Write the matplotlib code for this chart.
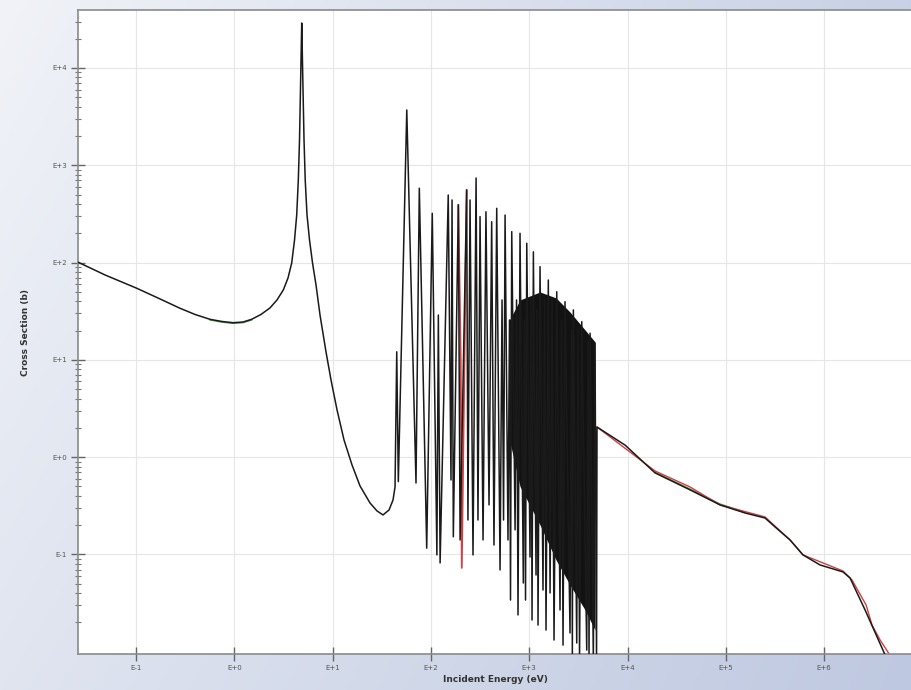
import numpy as np
import matplotlib
matplotlib.use("Agg")
from matplotlib import pyplot as plt
from matplotlib.ticker import LogLocator, NullFormatter

# Main evaluation (black): incident energy (eV) / cross section (b), read by segment
thermal_energy = [0.0257, 0.0484, 0.1016, 0.1754, 0.2805, 0.398, 0.566, 0.750, 0.970,
                  1.226, 1.50, 1.869, 2.307, 2.719, 3.151, 3.518, 3.837]
thermal_sigma = [101, 74.6, 54.5, 42.3, 33.9, 29.3, 26.1, 24.8, 24.1,
                 24.5, 26.1, 29.3, 34.2, 41.3, 52.3, 69.5, 99.1]

peak_energy = [4.098, 4.313, 4.478, 4.606, 4.715, 4.793, 4.850, 4.906, 5.000, 5.119,
               5.264, 5.491, 5.821, 6.246, 6.779, 7.444, 8.568, 9.632, 11.09, 13.06,
               15.76, 19.00, 24.02, 28.30, 32.57, 37.49, 41.17, 43.14]
peak_sigma = [170.8, 308.4, 706, 1820, 5940, 15310, 29010, 15310, 5940, 1820,
              706, 308.4, 170.8, 99.1, 58.9, 28.9, 12.06, 6.21, 3.06, 1.503,
              0.831, 0.506, 0.338, 0.280, 0.2547, 0.2866, 0.363, 0.494]

forest_energy = [44.9, 46.6, 56.8, 70.5, 76.2, 90.6, 103.2, 115, 119, 124, 150, 160,
                 164, 169, 190, 198, 231, 238, 250, 268, 288, 301, 316, 339, 363, 390,
                 415, 438, 467, 505, 529, 548, 568, 608, 630, 645, 664, 718, 743, 769,
                 806, 871, 896, 917, 944, 1019, 1043, 1068, 1102, 1173, 1200, 1229,
                 1288, 1381, 1431, 1482, 1564, 1629, 1706, 1788, 1905, 2057, 2131, 2207,
                 2312, 2600, 2694, 2745, 2812, 3043, 3136, 3249, 3421, 3846, 3965, 4059,
                 4159, 4489, 4670, 4840]
forest_sigma = [12.1, 0.560, 3700, 0.543, 581, 0.116, 321, 0.0989, 28.9, 0.0818, 495, 0.583,
                440, 0.152, 391, 0.141, 557, 0.226, 440, 0.0989, 740, 0.226, 297, 0.141, 333, 0.323,
                263, 0.125, 361, 0.0693, 41.3, 0.226, 308, 0.141, 25.7, 0.0340, 208, 0.179, 41.3, 0.0239,
                200, 0.0509, 25.7, 0.0340, 158, 0.0942, 41.3, 0.0212, 129, 0.0615, 32.6, 0.0188,
                90.8, 0.0431, 41.3, 0.0167, 66.2, 0.0402, 41.3, 0.0132, 50.2, 0.0269, 25.7, 0.0117,
                39.6, 0.0156, 20.3, 0.00927, 32.6, 0.0123, 20.3, 0.00824, 24.7, 0.0104, 16.0, 0.00824,
                18.8, 0.0082, 14.8, 0.0073]

tail_energy = [4893, 9441, 19050, 43250, 87300, 156700, 250400, 316300, 449800,
               609500, 907800, 1.556e6, 1.835e6, 2.608e6, 4.17e6]
tail_sigma = [2.04, 1.33, 0.689, 0.461, 0.323, 0.267, 0.237, 0.192, 0.141,
              0.0989, 0.0780, 0.0661, 0.0573, 0.0269, 0.00927]

# Unresolved part of the resonance forest (solid black band)
band_energy = [630, 806, 1288, 1875, 2600, 3698, 4670]
band_upper = [25.7, 41.3, 49.9, 43.3, 31.0, 20.3, 15.3]
band_lower = [1.50, 0.50, 0.201, 0.0878, 0.0486, 0.0269, 0.0167]

# Second evaluation (red), visible pieces
red_spike_energy = [190, 201, 206, 231]
red_spike_sigma = [391, 10.0, 0.0728, 557]
red_tail_energy = [4893, 19050, 43250, 87300, 250400, 449800, 609500,
                   1.556e6, 1.92e6, 2.67e6, 3.07e6, 3.71e6, 4.65e6]
red_tail_sigma = [2.04, 0.721, 0.494, 0.323, 0.243, 0.141, 0.0989,
                  0.0676, 0.0547, 0.0303, 0.0188, 0.0132, 0.00927]

# Third evaluation (green), visible pieces
green_low_energy = [0.566, 0.750, 0.970, 1.226, 1.50]
green_low_sigma = [25.7, 24.4, 23.7, 24.1, 25.7]
green_tail_energy = [19050, 43250, 87300, 156700]
green_tail_sigma = [0.70, 0.47, 0.33, 0.272]

x_ticks = [1e-1, 1e0, 1e1, 1e2, 1e3, 1e4, 1e5, 1e6]
x_labels = ["E-1", "E+0", "E+1", "E+2", "E+3", "E+4", "E+5", "E+6"]
y_ticks = [1e-1, 1e0, 1e1, 1e2, 1e3, 1e4]
y_labels = ["E-1", "E+0", "E+1", "E+2", "E+3", "E+4"]

black_energy = thermal_energy + peak_energy + forest_energy + tail_energy
black_sigma = thermal_sigma + peak_sigma + forest_sigma + tail_sigma

fig = plt.figure(figsize=(9.12, 6.9), dpi=100)

# Bluish gradient behind everything (bilinear between corner colours)
top_left, top_right = np.array([241, 243, 248]), np.array([200, 209, 229])
bot_left, bot_right = np.array([224, 229, 240]), np.array([190, 200, 224])
u = np.linspace(0, 1, 912)[None, :, None]
v = np.linspace(0, 1, 690)[:, None, None]
grad = ((1 - v) * ((1 - u) * top_left + u * top_right)
        + v * ((1 - u) * bot_left + u * bot_right)) / 255.0
fig.figimage(grad, xo=0, yo=0, origin="upper", zorder=-10)

ax = fig.add_axes([78 / 912, 36 / 690, 834 / 912, 644 / 690])
ax.set_facecolor("white")

ax.fill_between(band_energy, band_lower, band_upper, color="#121212", lw=0, zorder=2)
ax.plot(green_low_energy, green_low_sigma, color="#4c9a4c", lw=1.0, zorder=2)
ax.plot(green_tail_energy, green_tail_sigma, color="#4c9a4c", lw=1.0, zorder=2)
ax.plot(red_spike_energy, red_spike_sigma, color="#d04040", lw=1.3, zorder=2)
ax.plot(red_tail_energy, red_tail_sigma, color="#d04040", lw=1.0, zorder=2)
ax.plot(black_energy, black_sigma, color="#1a1a1a", lw=1.1, zorder=3)

ax.set_xscale("log")
ax.set_yscale("log")
ax.set_xlim(0.0257, 7.83e6)
ax.set_ylim(0.00948, 39450)

ax.set_xticks(x_ticks)
ax.set_xticklabels(x_labels)
ax.xaxis.set_minor_locator(LogLocator(base=10, subs=[], numticks=20))
ax.set_yticks(y_ticks)
ax.set_yticklabels(y_labels)
ax.yaxis.set_minor_locator(LogLocator(base=10, subs=np.arange(2, 10), numticks=20))
ax.yaxis.set_minor_formatter(NullFormatter())

ax.tick_params(axis="both", which="major", direction="inout", length=10, width=1.0,
               color="#666666", labelsize=5, labelcolor="#555555", pad=3)
ax.tick_params(axis="y", which="minor", direction="inout", length=4, width=0.8,
               color="#777777")

ax.grid(True, which="major", color="#e6e6e6", lw=0.8, zorder=0)
ax.set_axisbelow(True)

for side in ["left", "bottom", "top"]:
    ax.spines[side].set_color("#8a8a8a")
    ax.spines[side].set_linewidth(1.2)
ax.spines["right"].set_visible(False)

ax.set_xlabel("Incident Energy (eV)", fontsize=6.5, fontweight="bold", color="#333333", labelpad=3)
ax.set_ylabel("Cross Section (b)", fontsize=6.5, fontweight="bold", color="#333333", labelpad=16)

plt.savefig("out.png", dpi=100)
